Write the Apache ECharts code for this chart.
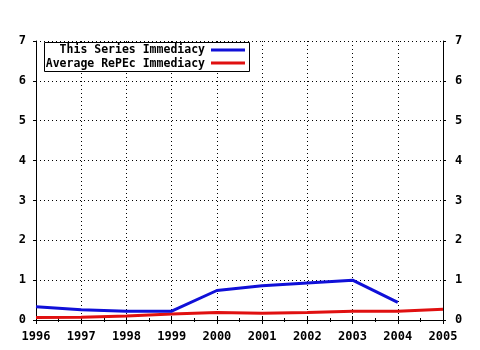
<!DOCTYPE html>
<html><head><meta charset="utf-8">
<script src="https://cdn.jsdelivr.net/npm/echarts@6/dist/echarts.min.js"></script>
<style>html,body{margin:0;padding:0;background:#fff}#c{width:480px;height:350px}</style>
</head><body><div id="c"></div>
<script>
const years = [1996,1997,1998,1999,2000,2001,2002,2003,2004,2005];
const seriesNames = ['This Series Immediacy','Average RePEc Immediacy'];
const seriesBlue = [0.33,0.26,0.22,0.22,0.74,0.86,0.93,1.0,0.44,null];
const seriesRed = [0.06,0.07,0.10,0.15,0.19,0.17,0.19,0.22,0.22,0.27];
const yTicks = [0,1,2,3,4,5,6,7];

const font = 'DejaVu Sans Mono';
const chart = echarts.init(document.getElementById('c'), null, {renderer:'canvas'});
const toPairs = arr => years.map((y,i)=>[y,arr[i]]).filter(p=>p[1]!==null);
const lbl = {color:'#000',fontFamily:font,fontWeight:'bold',fontSize:12};
const dotted = {show:true,lineStyle:{type:[1,3],color:'#000'}};
chart.setOption({
  animation:false,
  backgroundColor:'#fff',
  grid:{left:36,right:37,top:41,bottom:30},
  xAxis:[
    {type:'value',min:1996,max:2005,interval:1,position:'bottom',
      axisLine:{show:true,lineStyle:{color:'#000'}},
      axisTick:{show:true,inside:true,length:4,lineStyle:{color:'#000'}},
      minorTick:{show:true,splitNumber:2,length:2,lineStyle:{color:'#000'}},
      splitLine:dotted,
      axisLabel:Object.assign({},lbl,{margin:11,formatter:v=>String(v)})},
    {type:'value',min:1996,max:2005,interval:1,position:'top',
      axisLine:{show:true,lineStyle:{color:'#000'}},
      axisTick:{show:true,inside:true,length:4,lineStyle:{color:'#000'}},
      minorTick:{show:true,splitNumber:2,length:2,lineStyle:{color:'#000'}},
      splitLine:{show:false},axisLabel:{show:false}}
  ],
  yAxis:[
    {type:'value',min:0,max:7,interval:1,position:'left',
      axisLine:{show:true,lineStyle:{color:'#000'}},
      axisTick:{show:true,inside:false,length:3,lineStyle:{color:'#000'}},
      splitLine:dotted,
      axisLabel:Object.assign({},lbl,{margin:10,formatter:v=>yTicks.includes(v)?String(v):''})},
    {type:'value',min:0,max:7,interval:1,position:'right',
      axisLine:{show:true,lineStyle:{color:'#000'}},
      axisTick:{show:true,inside:false,length:3,lineStyle:{color:'#000'}},
      splitLine:{show:false},
      axisLabel:Object.assign({},lbl,{margin:12,formatter:v=>yTicks.includes(v)?String(v):''})}
  ],
  series:[
    {name:seriesNames[0],type:'line',data:toPairs(seriesBlue),showSymbol:false,
      lineStyle:{color:'#1010d8',width:3},itemStyle:{color:'#1010d8'},z:3},
    {name:seriesNames[1],type:'line',data:toPairs(seriesRed),showSymbol:false,
      lineStyle:{color:'#e01010',width:3},itemStyle:{color:'#e01010'},z:2}
  ],
  graphic:[
    {type:'rect',shape:{x:44.5,y:42.5,width:205,height:29},style:{fill:'#fff',stroke:'#000',lineWidth:1},z:10},
    {type:'text',x:205,y:50,style:{text:seriesNames[0],align:'right',verticalAlign:'middle',font:'bold 11.5px '+font,fill:'#000'},z:11},
    {type:'text',x:205,y:64,style:{text:seriesNames[1],align:'right',verticalAlign:'middle',font:'bold 11.5px '+font,fill:'#000'},z:11},
    {type:'line',shape:{x1:211,y1:50,x2:245,y2:50},style:{stroke:'#1010d8',lineWidth:3},z:11},
    {type:'line',shape:{x1:211,y1:63,x2:245,y2:63},style:{stroke:'#e01010',lineWidth:3},z:11}
  ]
});
</script></body></html>
